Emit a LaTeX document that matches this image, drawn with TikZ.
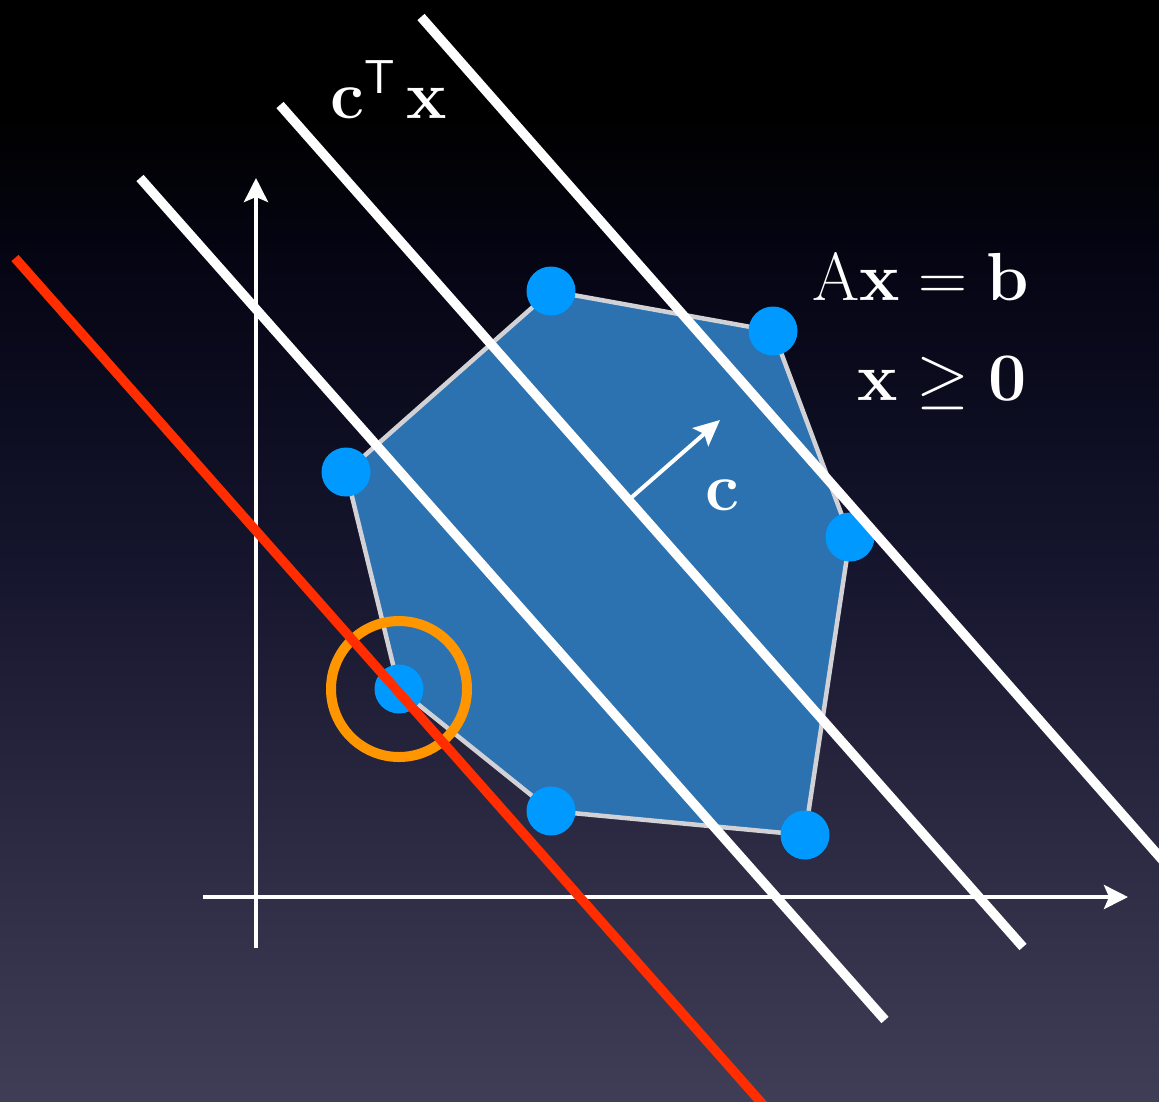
\documentclass[tikz,border=0pt]{standalone}
\usepackage{fix-cm}
\usepackage{amsmath,amssymb}
\usetikzlibrary{arrows.meta}
\definecolor{bgtop}{RGB}{0,0,0}
\definecolor{bgmid}{RGB}{20,20,44}
\definecolor{bgup}{RGB}{5,5,20}
\definecolor{bgbot}{RGB}{64,62,86}
\definecolor{polyfill}{RGB}{44,114,176}
\definecolor{polyedge}{RGB}{210,210,214}
\definecolor{dotblue}{RGB}{0,153,255}
\definecolor{redline}{RGB}{255,45,0}
\definecolor{orangec}{RGB}{255,150,0}
\pgfdeclareverticalshading{bgshade}{100bp}{color(0bp)=(bgbot); color(25bp)=(bgbot); color(50bp)=(bgmid); color(63bp)=(bgup); color(70bp)=(bgtop); color(100bp)=(bgtop)}
\tikzset{
  vdot/.style={circle,fill=dotblue,minimum size=49pt,inner sep=0pt},
  levelline/.style={white,line width=9.5pt},
  axisline/.style={white,line width=4pt,-{Stealth[length=24pt,width=24pt,inset=5pt]}},
  lbl/.style={text=white,font=\fontsize{68}{80}\selectfont,inner sep=0pt}
}
\begin{document}
\begin{tikzpicture}[x=1pt,y=-1pt]
\useasboundingbox (0,0) rectangle (1159,1101);
\clip (0,0) rectangle (1159,1101);
\shade[shading=bgshade] (0,0) rectangle (1159,1101);
% axes
\coordinate (xs) at (203,897); \coordinate (xe) at (1128,897);
\coordinate (ys) at (256,948); \coordinate (ye) at (256,178);
\draw[axisline] (xs) -- (xe);
\draw[axisline] (ys) -- (ye);
% polygon
\coordinate (v1) at (551,291);
\coordinate (v2) at (773,331);
\coordinate (v3) at (850,537);
\coordinate (v4) at (805,835);
\coordinate (v5) at (551,811);
\coordinate (v6) at (399,689);
\coordinate (v7) at (346,472);
\filldraw[fill=polyfill,draw=polyedge,line width=4.5pt,line join=round] (v1)--(v2)--(v3)--(v4)--(v5)--(v6)--(v7)--cycle;
\foreach \i in {1,...,7} \node[vdot] (d\i) at (v\i) {};
% optimum circle
\node[circle,draw=orangec,line width=10pt,minimum size=136pt,inner sep=0pt] (opt) at (v6) {};
% level lines
\coordinate (a1) at (140,178); \coordinate (b1) at (885,1020);
\coordinate (a2) at (280,105); \coordinate (b2) at (1023,947);
\coordinate (a3) at (421,17); \coordinate (b3) at (1180,880);
\draw[levelline] (a1) -- (b1);
\draw[levelline] (a2) -- (b2);
\draw[levelline] (a3) -- (b3);
\coordinate (r1) at (15,258); \coordinate (r2) at (766,1108);
\draw[redline,line width=9.5pt] (r1) -- (r2);
% c vector
\coordinate (cs) at (632,497); \coordinate (ce) at (720,420);
\draw[white,line width=4pt,-{Stealth[length=26pt,width=24pt,inset=5pt]}] (cs) -- (ce);
% labels
\node[lbl,anchor=base west] (ctx) at (330,118) {$\mathbf{c}^{\mathsf{T}}\,\mathbf{x}$};
\node[lbl,anchor=base west] (axb) at (812,300) {$\mathrm{A}\mathbf{x}=\mathbf{b}$};
\node[lbl,anchor=base east] (xg) at (1027,400) {$\mathbf{x}\geq\mathbf{0}$};
\node[lbl,anchor=base west] (cl) at (705,510) {$\mathbf{c}$};
\end{tikzpicture}
\end{document}
